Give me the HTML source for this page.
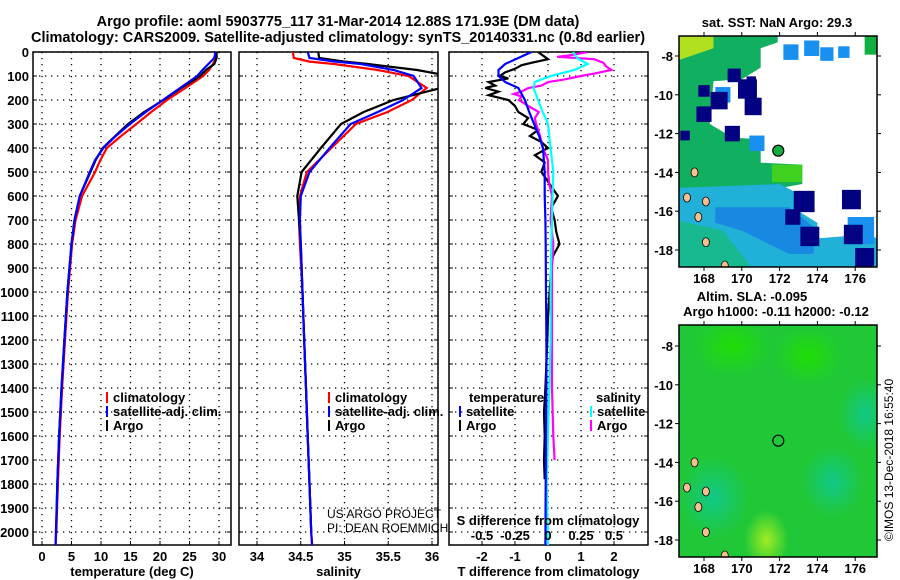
<!DOCTYPE html>
<html><head><meta charset="utf-8">
<style>
html,body{margin:0;padding:0;background:#fff;}
svg{display:block;font-family:"Liberation Sans",sans-serif;}
.t{font-weight:bold;font-size:13px;}
.tt{font-weight:bold;font-size:14.5px;}
</style></head>
<body>
<svg id="chart" width="900" height="580" viewBox="0 0 900 580" xmlns="http://www.w3.org/2000/svg">
<text class="tt" x="338" y="26" text-anchor="middle">Argo profile: aoml 5903775_117 31-Mar-2014 12.88S 171.93E (DM data)</text>
<text class="tt" x="338" y="42" text-anchor="middle">Climatology: CARS2009. Satellite-adjusted climatology: synTS_20140331.nc (0.8d earlier)</text>
<g id="g1"></g>
<g id="g2"></g>
<g id="g3"></g>
<g id="gm1"></g>
<g id="gm2"></g>
<text x="893" y="460" font-size="12" text-anchor="middle" transform="rotate(-90 893 460)">©IMOS 13-Dec-2018 16:55:40</text>
</svg>
<script>
// ---- data ----
const tDepth=[0,25,50,75,100,150,200,250,300,350,400,450,500,600,700,800,1000,1200,1400,1600,1800,2000,2055];
const tClim=[29.6,29.5,29.0,28.3,27.3,24.3,21.2,18.5,16,13.4,11,9.9,9,6.8,5.7,5.1,4.4,3.9,3.4,3.0,2.7,2.4,2.3];
const tSat=[29.4,29.2,28.2,27.2,26.3,23.4,20.5,17.6,14.9,12.5,10.4,9.0,8.1,6.4,5.5,5.0,4.3,3.8,3.3,2.9,2.6,2.35,2.3];
const tArgoDepth=[0,25,50,75,100,150,200,250,300,350,400,450,500,600,700,800,1000,1200,1400,1600,1800,2000];
const tArgo=[29.6,29.6,29.2,27.8,26.8,23.6,20.6,17.3,14.6,12.4,10.3,9.1,8.2,6.4,5.5,5.0,4.3,3.8,3.3,2.9,2.6,2.4];
const sDepth=[0,25,40,50,75,100,150,200,250,300,400,500,600,700,800,1000,1200,1400,1600,1800,2000,2055];
const sClim=[34.41,34.42,34.6,34.88,35.38,35.73,35.94,35.77,35.49,35.13,34.85,34.57,34.49,34.48,34.49,34.52,34.54,34.56,34.58,34.6,34.62,34.63];
const sSat=[34.58,34.6,34.9,35.19,35.56,35.79,35.88,35.67,35.38,35.07,34.83,34.6,34.5,34.49,34.5,34.52,34.54,34.56,34.58,34.6,34.62,34.63];
const sArgoDepth=[0,25,40,50,75,100,150,200,250,300,400,500,600,700,800,1000,1200,1400,1600,1800,2000];
const sArgo=[34.7,34.71,35.0,35.27,35.83,36.2,36.1,35.56,35.22,34.96,34.73,34.51,34.46,34.48,34.5,34.52,34.54,34.56,34.58,34.6,34.62];
const dDepth=[0,25,50,75,100,125,150,200,250,300,350,400,500,600,700,800,1000,1200,1400,1600,1800,2055];
const dTSat=[-0.5,-0.9,-1.3,-1.5,-1.5,-1.3,-0.9,-0.7,-0.57,-0.42,-0.27,-0.15,-0.1,-0.1,-0.08,-0.07,-0.06,-0.05,-0.05,-0.06,-0.07,-0.08];
const dSSat=[0.19,0.22,0.3,0.2,0.02,-0.1,-0.11,-0.075,-0.04,0,0.01,0.02,0.04,0.035,0.03,0.025,0.02,0.02,0.01,0.0,-0.01,0.0];
const aDepth=[0,20,30,45,55,70,85,100,110,125,140,150,165,180,200,225,250,275,300,325,350,375,400,430,460,500,550,600,650,700,750,800,850,900,1000,1100,1200,1300,1400,1500,1600,1700,1780];
const dTArgo=[-0.3,-0.1,0,-0.5,-0.8,-1.0,-1.3,-1.46,-1.2,-1.8,-1.6,-1.9,-1.5,-1.8,-1.2,-1.0,-0.9,-0.6,-0.75,-0.3,-0.55,-0.2,0,-0.4,-0.1,-0.2,0.05,0.3,0.1,0.2,0.25,0.35,0.15,0.1,0.05,0.0,-0.02,-0.05,-0.08,-0.12,-0.1,-0.12,-0.1];
const msDepth=[0,15,20,30,45,60,75,90,100,115,125,140,150,165,175,185,200,225,250,275,300,350,400,450,500,550,600,700,800,900,1000,1200,1400,1600,1700];
const dSArgo=[0.3,0.15,0.07,0.35,0.42,0.44,0.48,0.35,0.25,0.12,0.0,-0.05,-0.15,-0.2,-0.26,-0.2,-0.22,-0.15,-0.07,-0.1,-0.09,-0.06,-0.04,0.0,0.0,0.01,0.03,0.02,0.04,0.03,0.03,0.03,0.03,0.04,0.05];
const depthTicks=[0,100,200,300,400,500,600,700,800,900,1000,1100,1200,1300,1400,1500,1600,1700,1800,1900,2000];
const tTicks=[0,5,10,15,20,25,30];
const sTicks=[34,34.5,35,35.5,36];
const sTickLabels=["34","34.5","35","35.5","36"];
const dTicks=[-2,-1,0,1,2];
const dSTicks=[-0.5,-0.25,0,0.25,0.5];
const dSTickLabels=["-0.5","-0.25","0","0.25","0.5"];
const lonTicks=[168,170,172,174,176];
const latTicks=[-8,-10,-12,-14,-16,-18];
const argoPos=[171.93,-12.88];

const NS="http://www.w3.org/2000/svg";
function mk(p,tag,a){const e=document.createElementNS(NS,tag);for(const k in a)e.setAttribute(k,a[k]);p.appendChild(e);return e;}
const TOP=52,BOT=545;
const yD=d=>TOP+d*0.24;
const xT=v=>42+v*5.9;
const xS=v=>257+(v-34)*87.5;
const xDT=v=>548+v*33;
const xDS=v=>548+v*132;

function panel(g,id,x0,x1,xf,ticks,labels,xtitle){
  const cp=mk(g,'clipPath',{id:'cp'+id});mk(cp,'rect',{x:x0,y:TOP,width:x1-x0,height:BOT-TOP});
  depthTicks.forEach(d=>{const l=mk(g,'line',{x1:x0,x2:x1,y1:yD(d),y2:yD(d),stroke:'#000','stroke-width':1.3,'stroke-dasharray':'1.3 4.7'});
    
    mk(g,'line',{x1:x0,x2:x0+4,y1:yD(d),y2:yD(d),stroke:'#000'});mk(g,'line',{x1:x1-4,x2:x1,y1:yD(d),y2:yD(d),stroke:'#000'});});
  ticks.forEach((t,i)=>{const l=mk(g,'line',{x1:xf(t),x2:xf(t),y1:TOP,y2:BOT,stroke:'#000','stroke-width':1.3,'stroke-dasharray':'1.3 4.7'});
    
    mk(g,'line',{x1:xf(t),x2:xf(t),y1:BOT-4,y2:BOT,stroke:'#000'});
    if(labels){const tx=mk(g,'text',{x:xf(t),y:561,'text-anchor':'middle',class:'t'});tx.textContent=labels[i];
    }});
  const r=mk(g,'rect',{x:x0,y:TOP,width:x1-x0,height:BOT-TOP,fill:'none',stroke:'#000','stroke-width':1.5});
  
  const tt=mk(g,'text',{x:(x0+x1)/2,y:576,'text-anchor':'middle',class:'t'});tt.textContent=xtitle;
  
}
function line(g,id,depths,vals,xf,col,name){
  const pts=depths.map((d,i)=>xf(vals[i]).toFixed(1)+','+yD(d).toFixed(1)).join(' ');
  const p=mk(g,'polyline',{points:pts,fill:'none',stroke:col,'stroke-width':2.2,'clip-path':'url(#cp'+id+')'});
  
}
function legend(g,x,y,col,label,name){
  if(col){mk(g,'line',{x1:x,x2:x,y1:y-10,y2:y+1,stroke:col,'stroke-width':2});}
  const t=mk(g,'text',{x:x+6,y:y,class:'t'});t.textContent=label;
  
}
// panel 1
const g1=document.getElementById('g1');
panel(g1,1,33,231,xT,tTicks,tTicks.map(String),'temperature (deg C)');
depthTicks.forEach(d=>{const t=mk(g1,'text',{x:29,y:yD(d)+5,'text-anchor':'end',class:'t'});t.textContent=d;
  });
line(g1,1,tDepth,tClim,xT,'#f00','temp-climatology-line');
line(g1,1,tArgoDepth,tArgo,xT,'#000','temp-argo-line');
line(g1,1,tDepth,tSat,xT,'#00f','temp-satellite-line');
legend(g1,107,402,'#f00','climatology','legend-climatology');
legend(g1,107,416,'#00f','satellite-adj. clim.','legend-satellite');
legend(g1,107,430,'#000','Argo','legend-argo');
// panel 2
const g2=document.getElementById('g2');
panel(g2,2,239,438,xS,sTicks,sTickLabels,'salinity');
line(g2,2,sDepth,sClim,xS,'#f00','sal-climatology-line');
line(g2,2,sArgoDepth,sArgo,xS,'#000','sal-argo-line');
line(g2,2,sDepth,sSat,xS,'#00f','sal-satellite-line');
legend(g2,329,402,'#f00','climatology','legend-climatology');
legend(g2,329,416,'#00f','satellite-adj. clim.','legend-satellite');
legend(g2,329,430,'#000','Argo','legend-argo');
[['US ARGO PROJECT',518],['PI: DEAN ROEMMICH',532]].forEach(a=>{const t=mk(g2,'text',{x:327,y:a[1],'font-size':12});t.textContent=a[0];
  });
// panel 3
const g3=document.getElementById('g3');
panel(g3,3,449,648,xDT,dTicks,dTicks.map(String),'T difference from climatology');
line(g3,3,aDepth,dTArgo,xDT,'#000','tdiff-argo-line');
line(g3,3,msDepth,dSArgo,xDS,'#f0f','sdiff-argo-line');
line(g3,3,dDepth,dSSat,xDS,'#0ff','sdiff-satellite-line');
line(g3,3,dDepth,dTSat,xDT,'#00f','tdiff-satellite-line');
legend(g3,463,402,null,'temperature','legend-temperature-heading');
legend(g3,460,416,'#00f','satellite','legend-t-satellite');
legend(g3,460,430,'#000','Argo','legend-t-argo');
legend(g3,590,402,null,'salinity','legend-salinity-heading');
legend(g3,591,416,'#0ff','satellite','legend-s-satellite');
legend(g3,591,430,'#f0f','Argo','legend-s-argo');
{const t=mk(g3,'text',{x:548,y:525,'text-anchor':'middle',class:'t'});t.textContent='S difference from climatology';
 }
dSTicks.forEach((s,i)=>{const t=mk(g3,'text',{x:xDS(s),y:540,'text-anchor':'middle',class:'t'});t.textContent=dSTickLabels[i];
  });

// maps
function map(g,id,y0,y1,yLat8,yLat18,title1,bgFn){
  const X0=679,X1=877;
  const lx=lon=>704+(lon-168)*18.9;
  const ly=lat=>yLat8+(-8-lat)*(yLat18-yLat8)/10;
  const cp=mk(g,'clipPath',{id:'mc'+id});mk(cp,'rect',{x:X0,y:y0,width:X1-X0,height:y1-y0});
  const inner=mk(g,'g',{'clip-path':'url(#mc'+id+')'});
  bgFn(inner,lx,ly,X0,X1,y0,y1);
  const c=mk(inner,'circle',{cx:lx(argoPos[0]),cy:ly(argoPos[1]),r:5.5,fill:id==1?'#10b040':'none',stroke:'#000','stroke-width':1.2});
  
  const r=mk(g,'rect',{x:X0,y:y0,width:X1-X0,height:y1-y0,fill:'none',stroke:'#000','stroke-width':1.5});
  
  lonTicks.forEach(l=>{mk(g,'line',{x1:lx(l),x2:lx(l),y1:y0-4,y2:y0,stroke:'#000'});mk(g,'line',{x1:lx(l),x2:lx(l),y1:y1,y2:y1+4,stroke:'#000'});
    const t=mk(g,'text',{x:lx(l),y:y1+16,'text-anchor':'middle',class:'t'});t.textContent=l;
    });
  latTicks.forEach(l=>{mk(g,'line',{x1:X0-4,x2:X0,y1:ly(l),y2:ly(l),stroke:'#000'});mk(g,'line',{x1:X1,x2:X1+4,y1:ly(l),y2:ly(l),stroke:'#000'});
    const t=mk(g,'text',{x:X0-6,y:ly(l)+5,'text-anchor':'end',class:'t'});t.textContent=l;
    });
  title1.forEach(a=>{const t=mk(g,'text',{x:a[1],y:a[2],'text-anchor':'middle',class:'t'});t.textContent=a[0];
    });
}
const P=(lx,ly,arr)=>arr.map(p=>lx(p[0]).toFixed(1)+','+ly(p[1]).toFixed(1)).join(' ');
const navy=[[175.8,-15.4,1],[173.3,-15.5,1.1],[175.9,-17.2,1],[173.6,-17.3,1],[176.5,-18.4,1],[170.3,-9.7,1],[170.6,-10.6,0.9],[168.8,-10.3,0.9],[168,-11,0.8],[167,-12.1,0.5],[169.5,-12,0.8],[172.7,-16.3,0.8],[168,-9.8,0.6],[169.6,-9,0.7],[170.5,-9.3,0.5]];
const lightBlue=[[172.6,-7.8,0.8],[173.7,-7.6,0.8],[174.5,-7.9,0.7],[175.4,-7.8,0.6],[170.8,-12.5,0.8],[169,-10,0.8],[176.3,-17,1.4]];
map(document.getElementById('gm1'),1,36,267,56,250,[['sat. SST: NaN Argo: 29.3',777,27]],(g,lx,ly,X0,X1,y0,y1)=>{
  mk(g,'rect',{x:X0,y:y0,width:X1-X0,height:y1-y0,fill:'#fff'});
  mk(g,'polygon',{points:P(lx,ly,[[166.7,-6.9],[171.9,-6.9],[171.9,-7.3],[171,-7.6],[171,-8.6],[170,-9.2],[168.5,-9.3],[168.3,-11.5],[169.5,-12.2],[171,-12.3],[171,-13.5],[173.2,-13.6],[173.2,-14.6],[171.5,-14.9],[166.7,-15]]),fill:'#10b060'});
  mk(g,'polygon',{points:P(lx,ly,[[166.7,-6.9],[168.5,-6.9],[168.5,-7.6],[166.7,-8.2]]),fill:'#b0e020'});
  mk(g,'polygon',{points:P(lx,ly,[[171.6,-13.6],[173.2,-13.6],[173.2,-14.5],[171.6,-14.5]]),fill:'#40d020'});
  mk(g,'polygon',{points:P(lx,ly,[[166.7,-14.8],[172,-14.6],[172.8,-15],[173,-16],[174,-16.6],[174,-17.4],[176.6,-17.2],[177.2,-17.4],[177.2,-18.9],[166.7,-18.9]]),fill:'#20b0d8'});
  mk(g,'polygon',{points:P(lx,ly,[[168.6,-15.8],[172.5,-15.8],[173.8,-16.8],[173.8,-18.2],[172.5,-18.2],[170,-17],[168.6,-16.6]]),fill:'#1888e0'});
  mk(g,'polygon',{points:P(lx,ly,[[166.7,-16.5],[169,-17],[170.5,-18.9],[166.7,-18.9]]),fill:'#18b890'});
  mk(g,'rect',{x:lx(176.5),y:ly(-6.9),width:20,height:20,fill:'#10b040'});
  lightBlue.forEach(b=>mk(g,'rect',{x:lx(b[0]-b[2]/2),y:ly(b[1]+b[2]/2),width:b[2]*18.9,height:b[2]*19.4,fill:'#1890f0'}));
  navy.forEach(b=>mk(g,'rect',{x:lx(b[0]-b[2]/2),y:ly(b[1]+b[2]/2),width:b[2]*18.9,height:b[2]*19.4,fill:'#000080'}));
  [[167.1,-15.3],[167.7,-16.3],[168.1,-17.6],[167.5,-14],[169.1,-18.8],[168.1,-15.5]].forEach(p=>mk(g,'ellipse',{cx:lx(p[0]),cy:ly(p[1]),rx:3.5,ry:4.5,fill:'#f8c090',stroke:'#000','stroke-width':0.8}));
});
map(document.getElementById('gm2'),2,325,557,346,540,[['Altim. SLA: -0.095',752,301],['Argo h1000: -0.11 h2000: -0.12',776,316]],(g,lx,ly,X0,X1,y0,y1)=>{
  const d=mk(g,'defs',{});
  const mkR=(id,c)=>{const r=mk(d,'radialGradient',{id:id});mk(r,'stop',{offset:'0','stop-color':c,'stop-opacity':0.9});mk(r,'stop',{offset:'1','stop-color':c,'stop-opacity':0});};
  mkR('rg1','#10c890');mkR('rg2','#b0f020');mkR('rg3','#20e000');
  mk(g,'rect',{x:X0,y:y0,width:X1-X0,height:y1-y0,fill:'#20c838'});
  mk(g,'ellipse',{cx:lx(168.5),cy:ly(-15.8),rx:35,ry:40,fill:'url(#rg1)'});
  mk(g,'ellipse',{cx:lx(174.8),cy:ly(-15),rx:30,ry:35,fill:'url(#rg1)'});
  mk(g,'ellipse',{cx:lx(176.5),cy:ly(-11.5),rx:25,ry:35,fill:'url(#rg1)'});
  mk(g,'ellipse',{cx:lx(171.3),cy:ly(-18),rx:22,ry:30,fill:'url(#rg2)'});
  mk(g,'ellipse',{cx:lx(169.5),cy:ly(-8),rx:40,ry:30,fill:'url(#rg3)'});
  mk(g,'ellipse',{cx:lx(173.5),cy:ly(-8.5),rx:35,ry:30,fill:'url(#rg3)'});
  [[167.1,-15.3],[167.7,-16.3],[168.1,-17.6],[167.5,-14],[169.1,-18.8],[168.1,-15.5]].forEach(p=>mk(g,'ellipse',{cx:lx(p[0]),cy:ly(p[1]),rx:3.5,ry:4.5,fill:'#f8c090',stroke:'#000','stroke-width':0.8}));
});
</script>
</body></html>
